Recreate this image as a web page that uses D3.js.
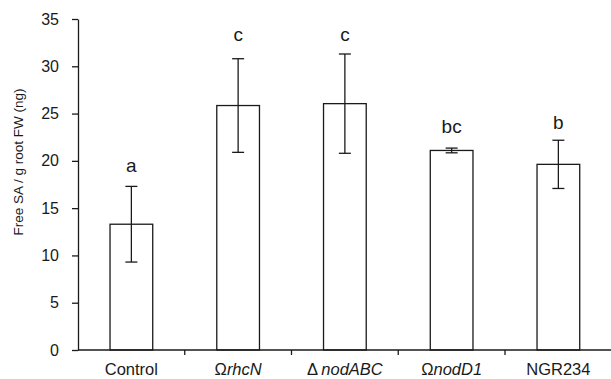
<!DOCTYPE html>
<html>
<head>
<meta charset="utf-8">
<script src="https://cdn.jsdelivr.net/npm/d3@7"></script>
<style>
  body { margin: 0; background: #fff; }
  svg { display: block; font-family: "Liberation Sans", Arial, sans-serif; }
</style>
</head>
<body>
<div id="chart"></div>
<script>
// values (ng free SA per g root FW)
var strains = ["Control", "rhcN", "nodABC", "nodD1", "NGR234"];
var prefix = ["", "\u03a9", "\u0394\u2009", "\u03a9", ""];
var italic = [false, true, true, true, false];
var means = [13.3, 25.85, 26.05, 21.1, 19.63];
var errs = [4.0, 4.95, 5.25, 0.25, 2.55];
var letters = ["a", "c", "c", "bc", "b"];
var letterAt = [18.85, 32.65, 32.65, 22.9, 23.4];   // baseline height in data units
var yTicks = [0, 5, 10, 15, 20, 25, 30, 35];

var width = 611, height = 379;
var ink = "#1a1a1a";

var svg = d3.select("#chart")
    .append("svg")
        .attr("width", width)
        .attr("height", height);

var x = d3.scaleBand()
    .domain(strains)
    .range([78, 611.75])
    .padding(0);

var y = d3.scaleLinear()
    .domain([0, 35])
    .range([350, 19]);

var barW = x.bandwidth() * 0.4;
var capW = 12;

var data = strains.map(function(s, i) {
    return {name: s, pre: prefix[i], it: italic[i], mean: means[i], err: errs[i],
            letter: letters[i], ly: letterAt[i]};
});

// bars
svg.append("g").attr("class", "bars")
    .selectAll("rect")
    .data(data)
    .enter()
    .append("rect")
        .attr("x", function(d) { return x(d.name) + (x.bandwidth() - barW) / 2 })
        .attr("y", function(d) { return y(d.mean) })
        .attr("width", barW)
        .attr("height", function(d) { return y(0) - y(d.mean) })
        .attr("fill", "#fff")
        .attr("stroke", ink)
        .attr("stroke-width", 1.3);

// error bars
var eb = svg.append("g").attr("class", "errs")
    .selectAll("g")
    .data(data)
    .enter()
    .append("g")
        .attr("transform", function(d) { return "translate(" + (x(d.name) + x.bandwidth() / 2) + ",0)" });

eb.append("line")
    .attr("y1", function(d) { return y(d.mean - d.err) })
    .attr("y2", function(d) { return y(d.mean + d.err) })
    .attr("stroke", ink).attr("stroke-width", 1.3);
eb.append("line")
    .attr("x1", -capW / 2).attr("x2", capW / 2)
    .attr("y1", function(d) { return y(d.mean + d.err) })
    .attr("y2", function(d) { return y(d.mean + d.err) })
    .attr("stroke", ink).attr("stroke-width", 1.3);
eb.append("line")
    .attr("x1", -capW / 2).attr("x2", capW / 2)
    .attr("y1", function(d) { return y(d.mean - d.err) })
    .attr("y2", function(d) { return y(d.mean - d.err) })
    .attr("stroke", ink).attr("stroke-width", 1.3);

// significance letters
eb.append("text")
    .attr("y", function(d) { return y(d.ly) })
    .attr("text-anchor", "middle")
    .attr("font-size", 19)
    .attr("fill", ink)
    .text(function(d) { return d.letter });

// y axis
var yAxis = svg.append("g")
    .attr("transform", "translate(78,0)")
    .call(d3.axisLeft(y).tickValues(yTicks).tickSize(6).tickSizeOuter(0).tickPadding(13));
yAxis.selectAll("path, line").attr("stroke", ink).attr("stroke-width", 1.3);
yAxis.selectAll("text")
    .attr("font-size", 16)
    .attr("font-family", "Liberation Sans, Arial, sans-serif")
    .attr("fill", ink);

// x axis line and ticks between groups
svg.append("line")
    .attr("x1", 78).attr("x2", width)
    .attr("y1", y(0)).attr("y2", y(0))
    .attr("stroke", ink).attr("stroke-width", 1.3);

svg.append("g").attr("class", "xticks")
    .selectAll("line")
    .data(strains.slice(1))
    .enter()
    .append("line")
        .attr("x1", function(d) { return x(d) })
        .attr("x2", function(d) { return x(d) })
        .attr("y1", y(0)).attr("y2", y(0) + 5)
        .attr("stroke", ink).attr("stroke-width", 1.3);

// category labels, gene names in italics
var lab = svg.append("g").attr("class", "xlabels")
    .selectAll("text")
    .data(data)
    .enter()
    .append("text")
        .attr("x", function(d) { return x(d.name) + x.bandwidth() / 2 })
        .attr("y", 375)
        .attr("text-anchor", "middle")
        .attr("font-size", 16.5)
        .attr("fill", ink);
lab.append("tspan").text(function(d) { return d.pre });
lab.append("tspan")
    .attr("font-style", function(d) { return d.it ? "italic" : "normal" })
    .text(function(d) { return d.name });

// axis title
svg.append("text")
    .attr("transform", "translate(23,162) rotate(-90)")
    .attr("text-anchor", "middle")
    .attr("font-size", 13.5)
    .attr("fill", ink)
    .text("Free SA / g root FW (ng)");
</script>
</body>
</html>
